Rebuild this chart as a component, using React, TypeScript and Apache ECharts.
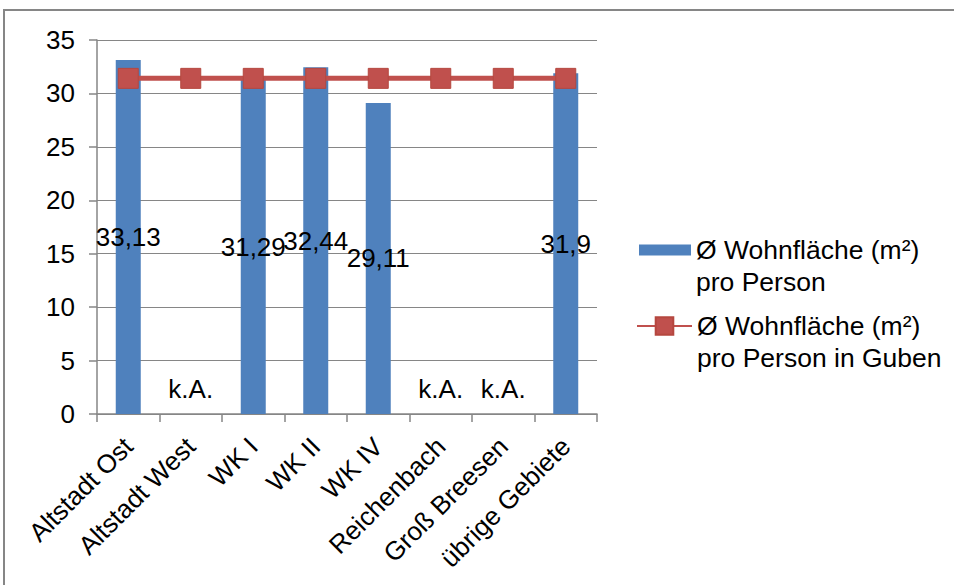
import React, { useEffect, useRef } from "react";
import * as echarts from "echarts";

const categories = [
  "Altstadt Ost",
  "Altstadt West",
  "WK I",
  "WK II",
  "WK IV",
  "Reichenbach",
  "Groß Breesen",
  "übrige Gebiete",
];
const wohnflaeche: (number | null)[] = [33.13, null, 31.29, 32.44, 29.11, null, null, 31.9];
const gubenAvg = [31.41, 31.41, 31.41, 31.41, 31.41, 31.41, 31.41, 31.41];
const seriesNames = [
  "Ø Wohnfläche (m²)\npro Person",
  "Ø Wohnfläche (m²)\npro Person in Guben",
];
const missingLabel = "k.A.";

const FONT = "'Liberation Sans', Arial, sans-serif";
const FS = 26;
const GRAY = "#868686";

export default function App() {
  const ref = useRef<HTMLDivElement>(null);
  useEffect(() => {
    if (!ref.current) return;
    const chart = echarts.init(ref.current, null, { renderer: "svg" });
    const barData = wohnflaeche.map((v) =>
      v === null
        ? {
            value: 0,
            label: { show: true, formatter: missingLabel, position: "top", distance: 12 },
          }
        : { value: v }
    );
    const legendText = {
      fontFamily: FONT,
      fontSize: 26.5,
      color: "#000",
      lineHeight: 32,
    };
    // leading empty line so the first text line is centred on the legend icon
    const legendFormatter = (name: string) => "\n" + name;
    chart.setOption({
      animation: false,
      backgroundColor: "#fff",
      textStyle: { fontFamily: FONT },
      graphic: [
        {
          type: "rect",
          shape: { x: 4, y: 10, width: 1200, height: 1000 },
          style: { fill: "none", stroke: GRAY, lineWidth: 2 },
          silent: true,
        },
      ],
      grid: { left: 97, right: 357, top: 40, bottom: 171, containLabel: false },
      legend: [
        {
          data: [{ name: seriesNames[0], icon: "rect" }],
          left: 634,
          top: 197,
          itemWidth: 52,
          itemHeight: 11,
          formatter: legendFormatter,
          textStyle: legendText,
          selectedMode: false,
        },
        {
          data: [{ name: seriesNames[1] }],
          left: 631,
          top: 273,
          itemWidth: 55,
          itemHeight: 22,
          formatter: legendFormatter,
          textStyle: legendText,
          selectedMode: false,
        },
      ],
      xAxis: {
        type: "category",
        data: categories,
        axisLine: { show: true, lineStyle: { color: GRAY, width: 1.5 } },
        axisTick: { show: true, length: 8, interval: 0, lineStyle: { color: GRAY, width: 1.5 } },
        axisLabel: {
          interval: 0,
          rotate: 45,
          margin: 28,
          fontFamily: FONT,
          fontSize: FS,
          color: "#000",
        },
      },
      yAxis: {
        type: "value",
        min: 0,
        max: 35,
        interval: 5,
        axisLine: { show: true, lineStyle: { color: GRAY, width: 1.5 } },
        axisTick: { show: true, length: 8, lineStyle: { color: GRAY, width: 1.5 } },
        axisLabel: { margin: 22, fontFamily: FONT, fontSize: FS, color: "#000" },
        splitLine: { show: true, lineStyle: { color: GRAY, width: 1 } },
      },
      series: [
        {
          name: seriesNames[0],
          type: "bar",
          data: barData,
          barWidth: 25,
          itemStyle: { color: "#4F81BD" },
          label: {
            show: true,
            position: "inside",
            color: "#000",
            fontFamily: FONT,
            fontSize: FS,
            formatter: (p: any) => String(p.value).replace(".", ","),
          },
          z: 2,
        },
        {
          name: seriesNames[1],
          type: "line",
          data: gubenAvg,
          symbol: "rect",
          symbolSize: 20,
          lineStyle: { color: "#C0504D", width: 5 },
          itemStyle: { color: "#C0504D", borderColor: "#B5473F", borderWidth: 1 },
          z: 3,
        },
      ],
    });
    return () => chart.dispose();
  }, []);
  return (
    <div
      ref={ref}
      style={{ position: "fixed", left: 0, top: 0, width: 954, height: 585 }}
    />
  );
}
